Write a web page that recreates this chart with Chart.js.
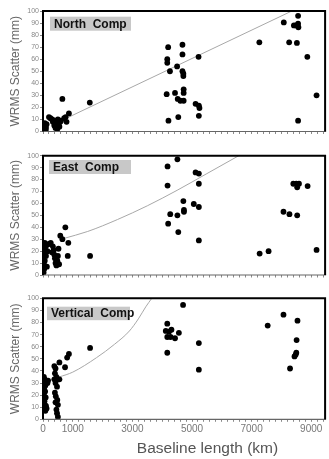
<!DOCTYPE html>
<html><head><meta charset="utf-8">
<script src="https://cdn.jsdelivr.net/npm/chart.js@4.4.0/dist/chart.umd.min.js"></script>
<style>
html,body{margin:0;padding:0;background:#fff;}
#wrap{position:relative;width:329px;height:459px;overflow:hidden;background:#fff;}
canvas{position:absolute;left:0;}
#xt{position:absolute;left:0;top:440px;width:415px;text-align:center;font:15.5px "Liberation Sans",Arial,sans-serif;line-height:15.5px;color:#555;white-space:nowrap;}
</style></head><body>
<div id="wrap">
<canvas id="c1" width="329" height="142" style="top:0px;width:329px;height:142px"></canvas>
<canvas id="c2" width="329" height="142" style="top:144px;width:329px;height:142px"></canvas>
<canvas id="c3" width="329" height="172" style="top:287px;width:329px;height:172px"></canvas>
<div id="xt">Baseline length (km)</div>
</div>
<script>
// ---- data ----
const xTickLabels = [0, 1000, 3000, 5000, 7000, 9000];
const xMin = 0, xMax = 9500, xMinorStep = 200;
const yMin = 0, yMax = 100, yStep = 10;
const yTitle = 'WRMS Scatter (mm)';
const panelNames = ['North  Comp', 'East  Comp', 'Vertical  Comp'];

const northPoints = [
 [30,2],[40,5],[60,7],[80,4],[50,1],[100,3],[120,6],[90,1],[200,12],[250,11],[310,10],[330,8],[380,5],[400,9],[420,3],[450,7],[480,2],[500,10],[520,6],[550,4],[580,8],[600,9],[650,27],[710,11],[760,12],[790,8],[870,15],[1570,24],
 [4200,70],[4170,60],[4170,57],[4260,50],[4150,31],[4210,9],[4500,54],[4430,32],[4520,27],[4610,25.5],[4720,25.5],[4540,12],[4680,72],[4680,64],[4680,50],[4710,48],[4710,46],[4720,35],[4720,32],[5220,62],[5120,23],[5230,21.5],[5250,19.5],[5230,13],
 [7260,74],[8080,90.5],[8260,74],[8520,73.5],[8560,96],[8420,88],[8490,88],[8560,89.5],[8570,86.5],[8560,9],[8870,62],[9180,30]
];
const eastPoints = [
 [20,2],[40,5],[30,9],[60,12],[20,15],[50,18],[80,21],[30,24],[60,27],[120,25],[150,20],[100,16],[130,7],[200,26],[260,27],[330,24],[300,19],[360,21],[380,17],[400,14],[420,10],[450,8],[480,12],[500,16],[520,22],[540,9],[580,33],[650,30],[750,40],[850,27],[830,16],[1580,16],
 [4180,91],[4510,97],[4180,75],[4200,43],[4270,51],[4510,50],[4540,36],[4710,62],[4730,54.5],[4730,53],[5120,86],[5230,85],[5230,76.5],[5060,59.5],[5230,57],[5230,29],
 [7270,18],[7570,20],[8070,53],[8270,51],[8530,50],[8400,76.5],[8500,76.5],[8590,76.5],[8530,73.5],[8880,74.5],[9180,21]
];
const vertPoints = [
 [30,35],[60,33],[20,30],[80,28],[40,26],[70,23],[30,20],[90,18],[50,15],[60,12],[30,10],[120,9],[100,11],[80,7],[150,30],[170,32],
 [380,44],[420,42],[400,38],[450,35],[380,33],[500,33],[550,33],[420,30],[470,27],[400,22],[430,19],[480,16],[420,14],[500,12],[450,8],[470,5],[500,2],[550,47],[740,43],[810,51],[870,54],[1580,59],
 [4170,79],[4120,73],[4230,72.5],[4310,74],[4170,68],[4280,68],[4170,55],[4430,67],[4560,71.5],[4700,94.5],[5230,63],[5230,41],
 [7540,77.5],[8070,86.5],[8540,81.5],[8290,42],[8510,65.5],[8500,55],[8480,53.5],[8440,52]
];
const northCurve = [[700,10],[8350,100]];
const eastCurve = [[680,30.5],[1500,36.5],[2500,46.5],[3500,58],[4500,71],[5500,85],[6570,100]];
const vertCurve = [[550,35],[1000,39],[1800,51],[2400,62],[2900,73],[3200,83],[3450,93],[3650,100]];

// ---- helpers ----
const FONT = '"Liberation Sans", Arial, Helvetica, sans-serif';
const toXY = arr => arr.map(p => ({x: p[0], y: p[1]}));

const framePlugin = {
  id: 'frame',
  beforeDatasetsDraw(chart, args, o) {
    const {ctx, chartArea: {left, top}} = chart;
    ctx.save();
    ctx.fillStyle = '#c8c8c8';
    ctx.fillRect(left + o.bx, top + o.by, o.bw, o.bh);
    ctx.fillStyle = '#111';
    ctx.font = 'bold 12px ' + FONT;
    ctx.textBaseline = 'alphabetic';
    ctx.fillText(o.label, left + o.bx + 4, top + o.by + o.bh - 3);
    ctx.restore();
  },
  afterDatasetsDraw(chart) {
    const {ctx, chartArea: {left, top, right, bottom}} = chart;
    ctx.save();
    ctx.strokeStyle = '#666'; ctx.lineWidth = 1.2;
    ctx.beginPath(); ctx.moveTo(left, bottom); ctx.lineTo(right, bottom); ctx.stroke();
    ctx.strokeStyle = '#000'; ctx.lineWidth = 2;
    ctx.beginPath(); ctx.moveTo(left, bottom); ctx.lineTo(left, top); ctx.lineTo(right - 1, top); ctx.lineTo(right - 1, bottom); ctx.stroke();
    ctx.restore();
  }
};

function makeChart(id, points, curve, label, padTop, xHeight, showLabels, box) {
  return new Chart(document.getElementById(id), {
    type: 'scatter',
    data: {
      datasets: [
        {data: toXY(points), backgroundColor: '#000', borderColor: '#000', pointRadius: 2.9, pointHoverRadius: 2.9, borderWidth: 0},
        {type: 'line', data: toXY(curve), borderColor: '#a8a8a8', borderWidth: 1, pointRadius: 0, fill: false, showLine: true, cubicInterpolationMode: 'monotone'}
      ]
    },
    options: {
      responsive: false, animation: false, events: [],
      layout: {padding: {top: padTop, right: 1, left: 0, bottom: 0}},
      plugins: {legend: {display: false}, tooltip: {enabled: false},
        frame: Object.assign({label: label}, box)},
      scales: {
        x: {
          type: 'linear', min: xMin, max: xMax,
          afterBuildTicks: s => { const t = []; for (let v = xMin; v <= xMax; v += xMinorStep) t.push({value: v}); s.ticks = t; },
          afterFit: s => { s.height = xHeight; },
          border: {display: false},
          grid: {drawOnChartArea: false, drawTicks: true, tickLength: 2.5, color: '#8a8a8a', lineWidth: 1},
          ticks: {autoSkip: false, maxRotation: 0, padding: 1, color: '#777', font: {family: FONT, size: 10},
            callback: v => (showLabels && xTickLabels.includes(v)) ? String(v) : ''}
        },
        y: {
          min: yMin, max: yMax,
          afterFit: s => { s.width = 43; },
          border: {display: false},
          grid: {drawOnChartArea: false, drawTicks: true, tickLength: 3, color: '#888'},
          ticks: {stepSize: yStep, padding: 1, color: '#888', font: {family: FONT, size: 7}},
          title: {display: true, text: yTitle, color: '#666', font: {family: FONT, size: 12}, padding: {top: 8, bottom: 0}}
        }
      }
    },
    plugins: [framePlugin]
  });
}

makeChart('c1', northPoints, northCurve, panelNames[0], 11, 10.5, false, {bx: 7, by: 5.7, bw: 81, bh: 14});
makeChart('c2', eastPoints, eastCurve, panelNames[1], 11.7, 11, false, {bx: 6, by: 4.3, bw: 82, bh: 14});
makeChart('c3', vertPoints, vertCurve, panelNames[2], 11.3, 39.7, true, {bx: 4, by: 8.4, bw: 83, bh: 13.5});
</script>
</body></html>
